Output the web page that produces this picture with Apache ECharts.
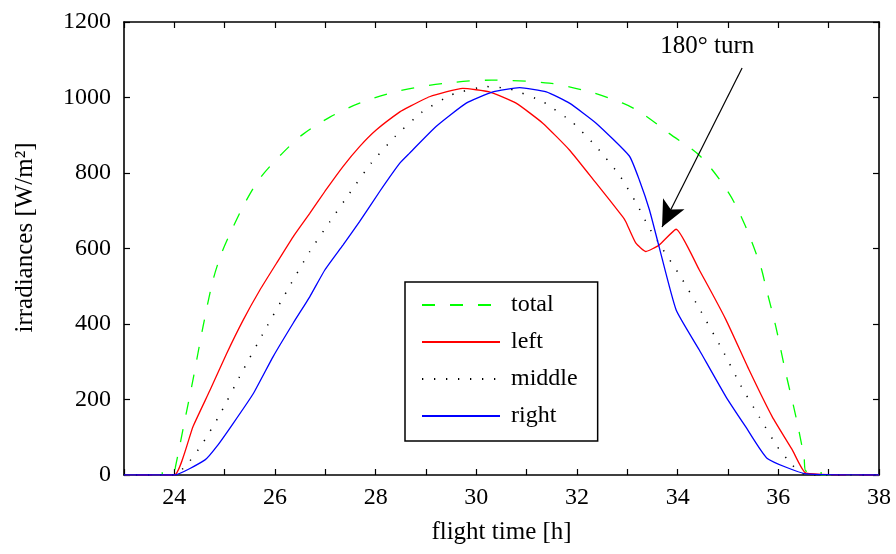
<!DOCTYPE html>
<html>
<head>
<meta charset="utf-8">
<title>Irradiances over flight time</title>
<script src="https://cdn.jsdelivr.net/npm/echarts@6/dist/echarts.min.js"></script>
<style>
  html, body { margin: 0; padding: 0; background: #fff; }
  #chart { width: 896px; height: 554px; }
</style>
</head>
<body>
<div id="chart"></div>
<script>
// Irradiance samples per panel, [flight time h, W/m²]
const totalPts = [
  [23, 0], [23.76, 0], [23.76, 10], [24.0, 10], [24.02, 20], [24.21, 146], [24.37, 252],
  [24.57, 393], [24.77, 517], [24.94, 588], [25.14, 649], [25.40, 720], [25.70, 786],
  [26.13, 850], [26.56, 903], [27.09, 948], [27.68, 985], [28.48, 1018], [29.47, 1039],
  [30.30, 1046], [31.45, 1038], [32.25, 1015], [32.91, 985], [33.27, 960], [33.83, 905],
  [34.46, 843], [35.02, 746], [35.35, 658], [35.65, 552], [35.75, 499], [35.95, 393],
  [36.15, 269], [36.35, 154], [36.51, 48], [36.55, 10], [36.85, 10], [36.85, 0], [38, 0]
];
const leftPts = [
  [23, 0], [24.0, 0], [24.37, 128], [24.71, 225], [25.04, 322], [25.37, 411], [25.70, 490],
  [26.03, 561], [26.36, 631], [26.69, 693], [26.99, 751], [27.35, 817], [27.68, 870],
  [28.01, 914], [28.48, 962], [28.67, 976], [29.07, 1002], [29.73, 1024], [30.26, 1015],
  [30.79, 985], [31.32, 932], [31.85, 861], [32.38, 773], [32.91, 684], [32.97, 671],
  [33.17, 614], [33.37, 592], [33.63, 609], [33.97, 651], [34.43, 543], [34.96, 411],
  [35.42, 278], [35.88, 154], [36.28, 66], [36.55, 5], [38, 0]
];
const middlePts = [
  [23, 0], [24.0, 0], [24.24, 26], [24.54, 79], [24.90, 159], [25.33, 269], [25.80, 384],
  [26.23, 486], [26.69, 592], [27.09, 671], [27.48, 746], [27.91, 826], [28.38, 896],
  [28.91, 960], [29.50, 1007], [30.20, 1029], [30.66, 1023], [31.32, 989], [31.92, 933],
  [32.38, 870], [32.84, 795], [33.20, 715], [33.42, 658], [33.67, 605], [34.06, 525],
  [34.43, 441], [34.89, 331], [35.25, 238], [35.62, 154], [35.98, 75], [36.28, 26],
  [36.55, 0], [38, 0]
];
const rightPts = [
  [23, 0], [24.0, 0], [24.61, 40], [24.84, 75], [25.17, 137], [25.57, 216], [25.96, 313],
  [26.36, 402], [26.69, 472], [26.99, 543], [27.35, 609], [27.68, 671], [28.08, 751],
  [28.48, 826], [28.67, 852], [29.20, 923], [29.80, 985], [30.33, 1015], [30.86, 1026],
  [31.39, 1015], [31.85, 985], [32.38, 932], [33.04, 845], [33.24, 781], [33.44, 702],
  [33.63, 605], [33.97, 437], [34.43, 331], [34.96, 207], [35.35, 128], [35.78, 44],
  [36.55, 3], [38, 0]
];
const seriesNames = ['total', 'left', 'middle', 'right'];
const xTicks = [24, 26, 28, 30, 32, 34, 36, 38];
const yTicks = [0, 200, 400, 600, 800, 1000, 1200];
const turnLabel = '180° turn';
const turnArrow = { from: [35.28, 1078], to: [33.69, 657], text: [34.59, 1134] };

const FONT = '"Liberation Serif", "DejaVu Serif", serif';
const FS = 24;

const chart = echarts.init(document.getElementById('chart'), null, { renderer: 'canvas' });

const tickStyle = { show: true, inside: true, length: 6, lineStyle: { color: '#000', width: 1.2 } };
const lineAxis = { show: true, onZero: false, lineStyle: { color: '#000', width: 1.6 } };
const showXTick = (i, v) => xTicks.indexOf(Number(v)) >= 0;

const option = {
  animation: false,
  backgroundColor: '#fff',
  textStyle: { fontFamily: FONT },
  grid: { left: 124, right: 17, top: 22, bottom: 79, containLabel: false },
  xAxis: [
    {
      type: 'value', min: 23, max: 38, interval: 1,
      axisLine: lineAxis,
      axisTick: Object.assign({}, tickStyle, { interval: showXTick }),
      splitLine: { show: false },
      name: 'flight time [h]', nameLocation: 'middle', nameGap: 45,
      nameTextStyle: { color: '#000', fontFamily: FONT, fontSize: 25 },
      axisLabel: { color: '#000', fontFamily: FONT, fontSize: FS, margin: 11,
        formatter: v => (xTicks.indexOf(v) >= 0 ? String(v) : '') }
    },
    {
      type: 'value', position: 'top', min: 23, max: 38, interval: 1,
      axisLine: lineAxis,
      axisTick: Object.assign({}, tickStyle, { interval: showXTick }),
      splitLine: { show: false },
      axisLabel: { show: false }
    }
  ],
  yAxis: [
    {
      type: 'value', min: yTicks[0], max: yTicks[yTicks.length - 1], interval: 200,
      axisLine: lineAxis, axisTick: tickStyle, splitLine: { show: false },
      name: 'irradiances [W/m²]', nameLocation: 'middle', nameGap: 86, nameRotate: 90,
      nameTextStyle: { color: '#000', fontFamily: FONT, fontSize: 25, padding: [0, 0, 0, 22] },
      axisLabel: { color: '#000', fontFamily: FONT, fontSize: FS, margin: 13,
        formatter: v => String(v) }
    },
    {
      type: 'value', position: 'right', min: yTicks[0], max: yTicks[yTicks.length - 1], interval: 200,
      axisLine: lineAxis, axisTick: tickStyle, splitLine: { show: false },
      axisLabel: { show: false }
    }
  ],
  legend: {
    orient: 'vertical',
    left: 405, top: 282,
    data: seriesNames,
    itemWidth: 78, itemHeight: 14, itemGap: 13,
    padding: [11, 20, 13, 16],
    borderColor: '#000', borderWidth: 1.5, backgroundColor: '#fff',
    itemStyle: { opacity: 0 },
    textStyle: { color: '#000', fontFamily: FONT, fontSize: FS, lineHeight: 24, padding: [0, 0, 0, 6] },
    selectedMode: false
  },
  series: [
    {
      name: seriesNames[0], type: 'line', data: totalPts, showSymbol: false, symbol: 'none',
      smooth: 0.3,
      lineStyle: { color: '#00ff00', width: 1.3, type: [13, 15] }, itemStyle: { color: '#00ff00' },
      silent: true
    },
    {
      name: seriesNames[1], type: 'line', data: leftPts, showSymbol: false, symbol: 'none',
      smooth: 0.15,
      lineStyle: { color: '#ff0000', width: 1.3 }, itemStyle: { color: '#ff0000' }, silent: true
    },
    {
      name: seriesNames[2], type: 'line', data: middlePts, showSymbol: false, symbol: 'none',
      smooth: 0.15,
      lineStyle: { color: '#000', width: 1.5, type: [1.3, 10.7] }, itemStyle: { color: '#000' },
      silent: true,
      markLine: {
        silent: true, animation: false,
        symbol: ['none', 'arrow'], symbolSize: [18, 26],
        lineStyle: { color: '#000', width: 1.2, type: 'solid' },
        label: { show: false },
        data: [[{ coord: turnArrow.from }, { coord: turnArrow.to }]]
      },
      markPoint: {
        silent: true, animation: false,
        symbol: 'rect', symbolSize: 1,
        itemStyle: { color: 'rgba(0,0,0,0)' },
        label: { show: true, position: 'inside', color: '#000', fontFamily: FONT, fontSize: 25,
          formatter: turnLabel },
        data: [{ coord: turnArrow.text }]
      }
    },
    {
      name: seriesNames[3], type: 'line', data: rightPts, showSymbol: false, symbol: 'none',
      smooth: 0.15,
      lineStyle: { color: '#0000ff', width: 1.3 }, itemStyle: { color: '#0000ff' }, silent: true
    }
  ]
};

chart.setOption(option);
</script>
</body>
</html>
